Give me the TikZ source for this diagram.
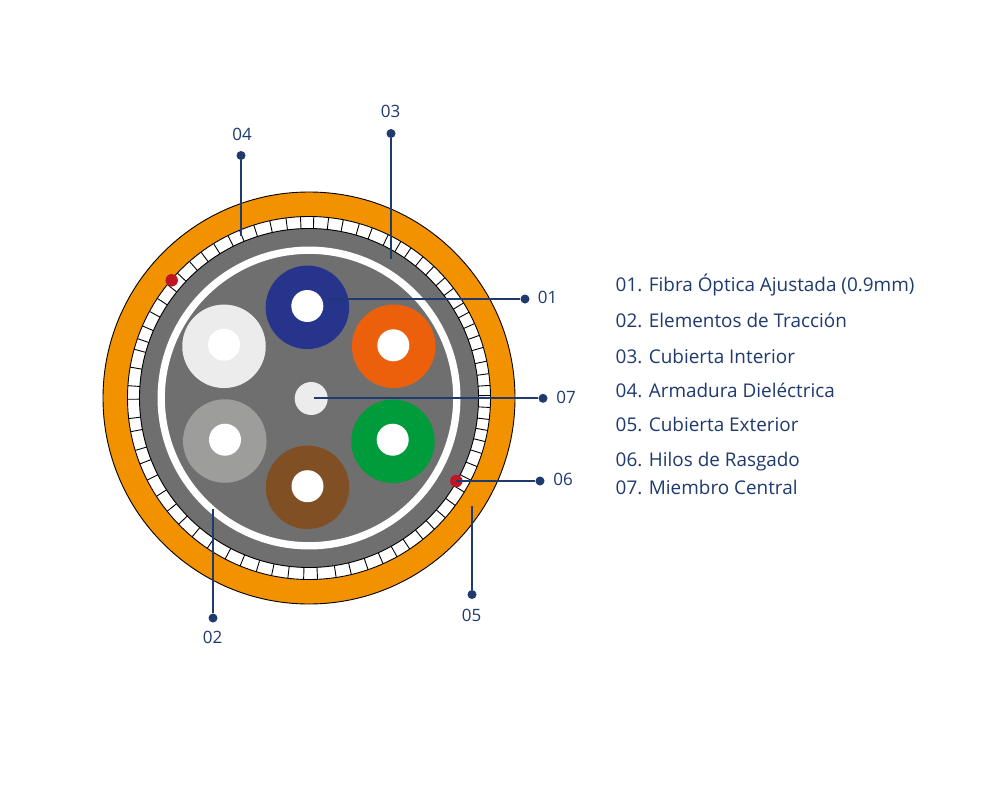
\documentclass[tikz,border=0pt]{standalone}
\usepackage{fontspec}
\setmainfont{Open Sans}
\usetikzlibrary{calc}
\definecolor{navy}{HTML}{1F3A6E}
\definecolor{cgrey}{HTML}{706F6F}
\definecolor{corange}{HTML}{F39200}
\definecolor{cred}{HTML}{BE1622}
\tikzset{
  x=1pt,y=-1pt,
  tube/.style={circle,inner sep=0pt,minimum size=83.5pt},
  hole/.style={circle,inner sep=0pt,minimum size=32pt,fill=white},
  lead/.style={draw=navy,line width=1.9pt},
  dot/.style={circle,inner sep=0pt,minimum size=9pt,fill=navy},
  lab/.style={text=navy,font=\fontsize{17}{20}\selectfont,inner sep=0pt},
  item/.style={lab,anchor=base west,font=\fontsize{18.9}{22}\selectfont},
  rip/.style={circle,inner sep=0pt,minimum size=12.5pt,fill=cred}
}
\begin{document}
\begin{tikzpicture}
\useasboundingbox (0,0) rectangle (1000,800);
\fill[white] (0,0) rectangle (1000,800);
\coordinate (c) at (309,398);
\draw[fill=corange,draw=black,line width=.9pt] (c) circle[radius=206];
\draw[fill=white,draw=black,line width=.9pt] (c) circle[radius=181.5];
\foreach \m in {0.8,4,7.7,11.7,16.2,20.2,24.2,28.2,31.6,37.2,41.5,46.5,51.1,55.8,59.6,64.1,69.6,73.9,79.1,83.8,88.5,92.7,97.3,102.5,107.7,112.5,116.5,121.7,126.5,131.2,136.5,141.3,146.7,151.5,156.6,160.9,164.4,170.2,176.1,180.4,186.5,190.7,196.8,201.3,206.9,212.8,218.6,224.1,229.9,235.9,242.5,247.7,253.1,258.1,263.3,268.3,272.7,278.6,283.5,289,294.1,299,303.7,308.9,313.7,318.7,323.7,328.8,333.1,337.8,342.2,346.1,349.7,353.2,357}
  \draw[black,line width=.9pt] ($(c)+(-\m:169)$) -- ($(c)+(-\m:181.5)$);
\fill[cgrey] (c) circle[radius=169.5];
\draw[black,line width=.9pt] (c) circle[radius=169.5];
\draw[white,line width=7.3pt] (c) circle[radius=147.8];
\node[tube,fill={rgb,255:red,39;green,52;blue,139}] (t1) at (307.4,307.3) {};
\node[hole] (h1) at (307.3,306) {};
\node[tube,fill={rgb,255:red,236;green,96;blue,12}] (t2) at (393.7,346.3) {};
\node[hole] (h2) at (393.3,345.3) {};
\node[tube,fill={rgb,255:red,0;green,155;blue,58}] (t3) at (393,441.3) {};
\node[hole] (h3) at (392.7,439.7) {};
\node[tube,fill={rgb,255:red,128;green,80;blue,36}] (t4) at (307.5,487.3) {};
\node[hole] (h4) at (307.5,486.2) {};
\node[tube,fill={rgb,255:red,157;green,157;blue,156}] (t5) at (224.8,441) {};
\node[hole] (h5) at (225,439.7) {};
\node[tube,fill={rgb,255:red,236;green,236;blue,236}] (t6) at (224,346.3) {};
\node[hole] (h6) at (224,344.7) {};
\node[circle,inner sep=0pt,minimum size=33pt,fill={rgb,255:red,236;green,236;blue,236}] (cm) at (311.2,398.5) {};
\node[rip] (r1) at (171.7,280.3) {};
\node[rip] (r2) at (456.3,481) {};
% leaders
\node[dot] (d1) at (525,299) {};
\node[dot] (d2) at (213,618) {};
\node[dot] (d3) at (391,133.5) {};
\node[dot] (d4) at (241,155.5) {};
\node[dot] (d5) at (472,594.5) {};
\node[dot] (d6) at (540,481) {};
\node[dot] (d7) at (543,398.3) {};
\coordinate (e1) at (328,299);
\coordinate (e2) at (213,509);
\coordinate (e3) at (391,259);
\coordinate (e4) at (241,235.5);
\coordinate (e5) at (472,506);
\coordinate (e6) at (456,481);
\coordinate (e7) at (314,398.3);
\draw[lead] (e1) -- (d1);
\draw[lead] (e2) -- (d2);
\draw[lead] (e3) -- (d3);
\draw[lead] (e4) -- (d4);
\draw[lead] (e5) -- (d5);
\draw[lead] (e6) -- (d6);
\draw[lead] (e7) -- (d7);
\node[lab] (l1) at (547.5,297) {01};
\node[lab] (l2) at (212.5,637.5) {02};
\node[lab] (l3) at (390.5,111) {03};
\node[lab] (l4) at (242,134) {04};
\node[lab] (l5) at (471.5,615) {05};
\node[lab] (l6) at (563,479) {06};
\node[lab] (l7) at (566,397) {07};
\node[item] (i1) at (615.5,291.2) {01. Fibra Óptica Ajustada (0.9mm)};
\node[item] (i2) at (615.5,327.3) {02. Elementos de Tracción};
\node[item] (i3) at (615.5,363.2) {03. Cubierta Interior};
\node[item] (i4) at (615.5,397.2) {04. Armadura Dieléctrica};
\node[item] (i5) at (615.5,431.2) {05. Cubierta Exterior};
\node[item] (i6) at (615.5,466.3) {06. Hilos de Rasgado};
\node[item] (i7) at (615.5,494.2) {07. Miembro Central};
\end{tikzpicture}
\end{document}
